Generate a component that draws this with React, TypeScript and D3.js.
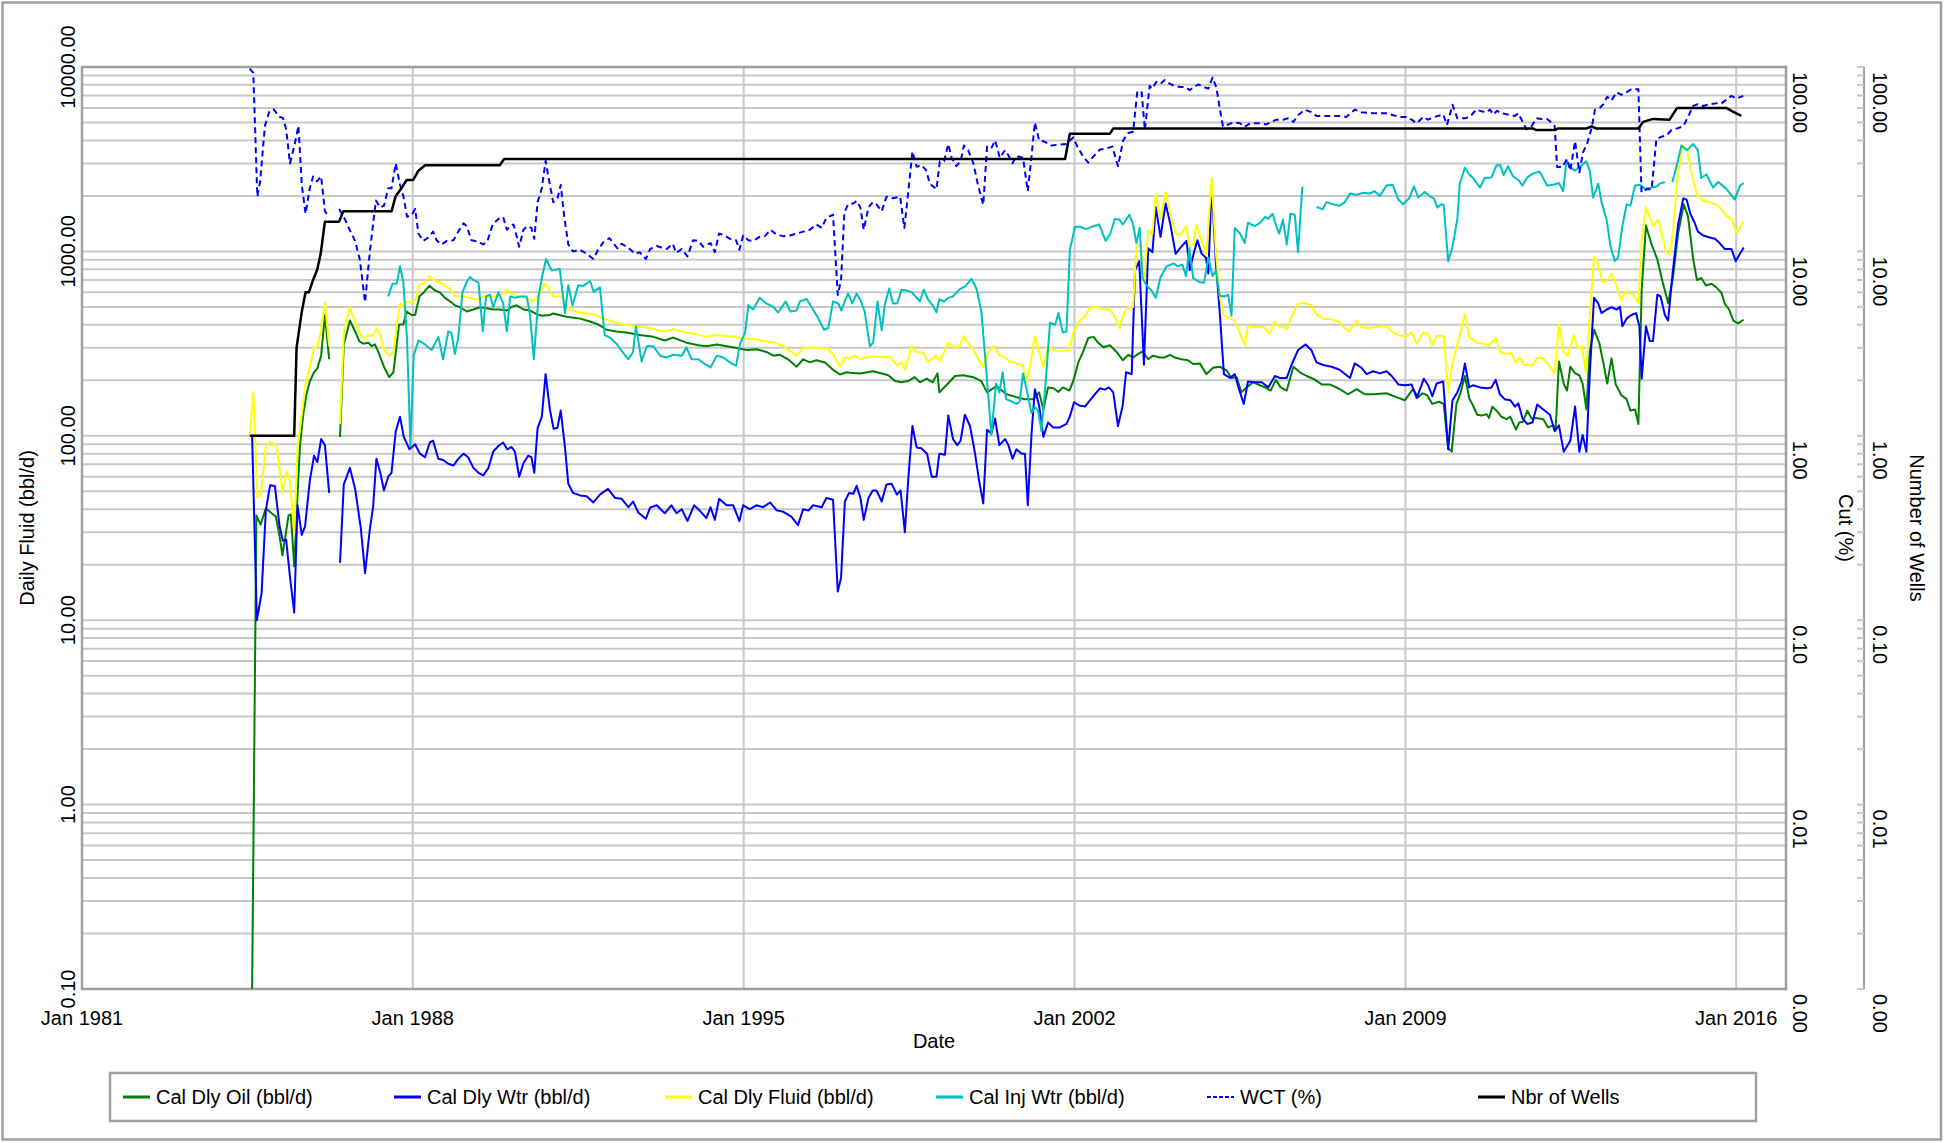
import React from 'react'
import * as d3 from 'd3'

type Pt = [number, number | null]

// decimal year, bbl/d
const oilData: Pt[] = [
  [1984.60, 0.1], [1984.69, 37], [1984.78, 33], [1984.89, 40.5], [1985.01, 38], [1985.10, 36.5], [1985.18, 28.6], [1985.24, 22.5],
  [1985.30, 28], [1985.37, 37], [1985.42, 37.5], [1985.49, 19.6], [1985.56, 47.5], [1985.61, 86.5], [1985.68, 130], [1985.75, 168],
  [1985.82, 197], [1985.91, 221], [1985.98, 232], [1986.06, 272], [1986.14, 452], [1986.23, 260], [1986.35, null],
  [1986.46, 98.6], [1986.54, 313], [1986.67, 422], [1986.78, 368], [1986.87, 325], [1986.95, 316], [1987.06, 320], [1987.13, 306],
  [1987.20, 313], [1987.27, 285], [1987.39, 237], [1987.50, 208], [1987.59, 221], [1987.66, 313], [1987.71, 402], [1987.80, 402],
  [1987.87, 472], [1987.98, 452], [1988.05, 452], [1988.14, 570], [1988.24, 603], [1988.35, 650], [1988.47, 614], [1988.57, 600],
  [1988.68, 560], [1988.79, 535], [1988.89, 510], [1989.00, 498], [1989.14, 472], [1989.28, 484], [1989.42, 498], [1989.56, 492],
  [1989.70, 484], [1989.84, 484], [1989.99, 478], [1990.09, 500], [1990.20, 510], [1990.34, 484], [1990.48, 478], [1990.62, 457],
  [1990.73, 448], [1990.90, 452], [1990.97, 461], [1991.25, 442], [1991.54, 432], [1991.75, 417], [1991.92, 402], [1992.10, 376],
  [1992.31, 368], [1992.52, 363], [1992.80, 352], [1993.09, 344], [1993.33, 329], [1993.51, 341], [1993.79, 320], [1994.04, 310],
  [1994.21, 306], [1994.43, 313], [1994.64, 306], [1994.85, 299], [1995.06, 292], [1995.27, 295], [1995.48, 285], [1995.63, 272],
  [1995.77, 275], [1995.94, 260], [1996.12, 237], [1996.26, 260], [1996.40, 250], [1996.54, 257], [1996.72, 250], [1996.89, 228],
  [1997.04, 215], [1997.18, 221], [1997.25, 220], [1997.46, 218], [1997.74, 224], [1998.06, 213], [1998.20, 198], [1998.34, 195],
  [1998.48, 198], [1998.62, 208], [1998.73, 195], [1998.87, 204], [1999.00, 195], [1999.10, 218], [1999.14, 172], [1999.29, 188],
  [1999.47, 211], [1999.65, 213], [1999.86, 208], [2000.03, 198], [2000.15, 172], [2000.35, 186], [2000.56, 168], [2000.77, 162],
  [2000.95, 158], [2001.13, 158], [2001.25, 172], [2001.34, 139], [2001.44, 183], [2001.55, 181], [2001.66, 173], [2001.75, 183],
  [2001.89, 176], [2001.97, 197], [2002.08, 250], [2002.18, 285], [2002.29, 339], [2002.40, 344], [2002.50, 320], [2002.61, 302],
  [2002.75, 310], [2002.89, 285], [2003.02, 257], [2003.14, 275], [2003.24, 266], [2003.35, 278], [2003.44, 287], [2003.56, 260],
  [2003.66, 272], [2003.81, 266], [2003.91, 266], [2004.02, 275], [2004.12, 266], [2004.26, 260], [2004.40, 257], [2004.51, 245],
  [2004.65, 247], [2004.79, 216], [2004.93, 234], [2005.07, 237], [2005.22, 226], [2005.32, 206], [2005.43, 208], [2005.53, 172],
  [2005.64, 183], [2005.78, 195], [2005.92, 188], [2006.03, 183], [2006.15, 176], [2006.26, 201], [2006.36, 183], [2006.49, 176],
  [2006.63, 237], [2006.77, 221], [2006.91, 211], [2007.05, 204], [2007.23, 190], [2007.40, 190], [2007.58, 181], [2007.79, 168],
  [2007.97, 179], [2008.14, 168], [2008.32, 168], [2008.60, 170], [2008.81, 162], [2008.99, 156], [2009.16, 179], [2009.27, 162],
  [2009.36, 170], [2009.46, 166], [2009.57, 149], [2009.71, 153], [2009.81, 149], [2009.905, 86], [2009.98, 82], [2010.08, 149],
  [2010.17, 172], [2010.26, 211], [2010.35, 160], [2010.43, 146], [2010.52, 130], [2010.61, 129], [2010.72, 131], [2010.77, 125],
  [2010.84, 144], [2010.94, 136], [2011.03, 127], [2011.14, 123], [2011.22, 127], [2011.34, 108], [2011.41, 118], [2011.49, 119],
  [2011.58, 137], [2011.67, 124], [2011.77, 125], [2011.92, 123], [2012.02, 111], [2012.13, 114], [2012.18, 108], [2012.25, 253],
  [2012.35, 192], [2012.42, 176], [2012.49, 237], [2012.59, 218], [2012.68, 213], [2012.75, 192], [2012.83, 139], [2012.90, 285],
  [2012.99, 376], [2013.10, 320], [2013.19, 247], [2013.27, 192], [2013.36, 263], [2013.45, 190], [2013.57, 166], [2013.68, 158],
  [2013.76, 137], [2013.86, 139], [2013.93, 116], [2014.00, 625], [2014.09, 1380], [2014.21, 1090], [2014.33, 906], [2014.44, 686],
  [2014.56, 524], [2014.66, 717], [2014.77, 1250], [2014.89, 1800], [2014.98, 1550], [2015.09, 906], [2015.17, 700], [2015.26, 717],
  [2015.36, 653], [2015.48, 668], [2015.58, 638], [2015.69, 595], [2015.76, 520], [2015.85, 484], [2015.94, 421], [2016.04, 407],
  [2016.16, 426],
]

const wtrData: Pt[] = [
  [1984.60, 100], [1984.70, 10], [1984.80, 14], [1984.89, 39.5], [1984.98, 54], [1985.08, 53.5], [1985.18, 32.3], [1985.25, 27],
  [1985.32, 27.3], [1985.40, 17.2], [1985.49, 11], [1985.56, 42], [1985.65, 29], [1985.72, 32.3], [1985.82, 57], [1985.91, 78],
  [1985.98, 72], [1986.06, 96], [1986.14, 89], [1986.23, 49], [1986.35, null], [1986.46, 20.5], [1986.54, 54.5], [1986.67, 67],
  [1986.78, 51.5], [1986.90, 31.6], [1986.99, 18], [1987.09, 31], [1987.16, 41], [1987.23, 75], [1987.32, 62], [1987.39, 50.5],
  [1987.48, 60], [1987.55, 63], [1987.64, 106], [1987.73, 127], [1987.81, 98.6], [1987.93, 84.5], [1988.05, 90], [1988.15, 80],
  [1988.26, 76.5], [1988.36, 92], [1988.43, 94], [1988.54, 75], [1988.64, 74], [1988.75, 70.5], [1988.86, 69], [1988.96, 75],
  [1989.07, 80], [1989.17, 76.5], [1989.28, 67], [1989.39, 63], [1989.49, 61], [1989.60, 67], [1989.70, 82], [1989.81, 88],
  [1989.91, 92], [1990.00, 84.5], [1990.09, 87], [1990.16, 82], [1990.25, 60], [1990.34, 71], [1990.44, 78], [1990.51, 76.5],
  [1990.57, 63], [1990.64, 110], [1990.73, 127], [1990.81, 216], [1990.90, 139], [1990.98, 109], [1991.06, 110.5], [1991.13, 137],
  [1991.22, 86.5], [1991.29, 55], [1991.39, 49], [1991.54, 47.5], [1991.68, 47], [1991.82, 43.5], [1991.96, 48], [1992.13, 51.5],
  [1992.28, 46], [1992.42, 45.5], [1992.56, 41], [1992.66, 44], [1992.77, 38.4], [1992.93, 35.5], [1993.02, 40.8], [1993.16, 42],
  [1993.33, 38], [1993.47, 42], [1993.58, 38], [1993.69, 40], [1993.81, 34.5], [1993.95, 42], [1994.07, 39.3], [1994.21, 35.8],
  [1994.30, 41], [1994.39, 35], [1994.48, 45.5], [1994.64, 42], [1994.78, 42], [1994.91, 34.5], [1994.99, 42], [1995.13, 40],
  [1995.27, 42], [1995.41, 41], [1995.56, 43.5], [1995.70, 39.4], [1995.84, 38.7], [1996.01, 36.5], [1996.15, 32.8], [1996.26, 40],
  [1996.37, 39.3], [1996.47, 42], [1996.65, 41], [1996.75, 46], [1996.89, 45], [1996.99, 14.3], [1997.06, 17], [1997.14, 44],
  [1997.23, 49], [1997.32, 48.5], [1997.39, 53.5], [1997.47, 46], [1997.54, 35], [1997.64, 46], [1997.73, 50.5], [1997.81, 50.5],
  [1997.92, 44], [1998.02, 54.5], [1998.13, 55], [1998.24, 48], [1998.32, 50.5], [1998.41, 30], [1998.48, 57], [1998.57, 113],
  [1998.66, 86.5], [1998.76, 85.5], [1998.88, 80], [1998.98, 60], [1999.08, 60], [1999.14, 80], [1999.26, 79], [1999.33, 129],
  [1999.43, 96], [1999.52, 89], [1999.59, 94], [1999.68, 130], [1999.79, 113], [1999.89, 82], [1999.98, 57.5], [2000.07, 43],
  [2000.15, 108], [2000.24, 103], [2000.32, 124], [2000.41, 89], [2000.53, 96], [2000.60, 89], [2000.69, 75], [2000.77, 84.5],
  [2000.88, 80], [2000.95, 80], [2001.01, 42], [2001.09, 103], [2001.16, 179], [2001.25, 146], [2001.34, 98.6], [2001.44, 118],
  [2001.55, 111], [2001.69, 111], [2001.83, 116], [2001.90, 127], [2001.99, 152], [2002.10, 146], [2002.22, 144], [2002.33, 156],
  [2002.43, 168], [2002.54, 181], [2002.64, 178], [2002.73, 183], [2002.82, 172], [2002.92, 113], [2003.02, 146], [2003.09, 221],
  [2003.21, 216], [2003.28, 787], [2003.37, 885], [2003.47, 243], [2003.56, 1040], [2003.65, 990], [2003.72, 1740], [2003.82, 1200],
  [2003.93, 1820], [2004.03, 1400], [2004.14, 970], [2004.26, 1062], [2004.37, 1140], [2004.44, 792], [2004.51, 950], [2004.60, 1150],
  [2004.69, 970], [2004.78, 925], [2004.83, 758], [2004.90, 2275], [2004.99, 866], [2005.07, 472], [2005.16, 216], [2005.29, 206],
  [2005.39, 216], [2005.48, 179], [2005.58, 149], [2005.67, 197], [2005.81, 195], [2005.96, 195], [2006.10, 183], [2006.24, 211],
  [2006.34, 206], [2006.49, 206], [2006.59, 242], [2006.73, 292], [2006.89, 313], [2007.01, 292], [2007.12, 250], [2007.26, 242],
  [2007.44, 237], [2007.61, 228], [2007.83, 206], [2007.93, 247], [2008.07, 234], [2008.18, 216], [2008.32, 224], [2008.46, 218],
  [2008.60, 224], [2008.71, 211], [2008.85, 190], [2008.99, 188], [2009.13, 190], [2009.24, 160], [2009.39, 204], [2009.48, 188],
  [2009.57, 164], [2009.66, 192], [2009.80, 197], [2009.905, 84.5], [2009.997, 156], [2010.10, 172], [2010.19, 197], [2010.26, 247],
  [2010.35, 183], [2010.43, 188], [2010.58, 183], [2010.72, 181], [2010.82, 183], [2010.91, 201], [2011.00, 168], [2011.10, 158],
  [2011.22, 156], [2011.32, 144], [2011.39, 150], [2011.48, 124], [2011.58, 116], [2011.69, 118], [2011.79, 148], [2011.92, 139],
  [2012.06, 130], [2012.16, 106], [2012.25, 114], [2012.35, 82], [2012.49, 94], [2012.59, 144], [2012.68, 82], [2012.75, 101],
  [2012.83, 82], [2012.90, 216], [2012.99, 560], [2013.08, 522], [2013.15, 463], [2013.26, 484], [2013.36, 498], [2013.47, 484],
  [2013.54, 500], [2013.59, 393], [2013.68, 432], [2013.78, 452], [2013.88, 463], [2013.95, 393], [2014.00, 204], [2014.09, 393],
  [2014.17, 327], [2014.24, 327], [2014.33, 582], [2014.40, 570], [2014.49, 452], [2014.56, 422], [2014.66, 787], [2014.77, 1400],
  [2014.88, 1940], [2014.95, 1910], [2015.03, 1600], [2015.12, 1430], [2015.19, 1280], [2015.30, 1220], [2015.44, 1190],
  [2015.55, 1170], [2015.65, 1110], [2015.76, 1030], [2015.90, 1030], [2015.99, 885], [2016.08, 970], [2016.16, 1050],
]

const fluidData: Pt[] = [
  [1984.55, 98.6], [1984.625, 172], [1984.71, 46.5], [1984.78, 47.5], [1984.89, 86.5], [1984.96, 92], [1985.05, 91], [1985.12, 86.5],
  [1985.18, 67], [1985.24, 49], [1985.33, 64], [1985.40, 57], [1985.49, 29.6], [1985.56, 86.5], [1985.65, 130], [1985.72, 188],
  [1985.82, 237], [1985.91, 299], [1985.98, 306], [1986.06, 376], [1986.14, 530], [1986.23, 306], [1986.35, null], [1986.46, 116],
  [1986.54, 360], [1986.67, 498], [1986.78, 414], [1986.87, 360], [1986.97, 339], [1987.06, 352], [1987.15, 348], [1987.23, 384],
  [1987.31, 352], [1987.39, 292], [1987.50, 272], [1987.59, 285], [1987.66, 393], [1987.73, 522], [1987.80, 498], [1987.87, 530],
  [1987.98, 530], [1988.05, 542], [1988.14, 656], [1988.24, 668], [1988.35, 735], [1988.47, 690], [1988.57, 683], [1988.68, 650],
  [1988.79, 625], [1988.89, 575], [1989.03, 570], [1989.21, 560], [1989.35, 546], [1989.49, 570], [1989.70, 570], [1989.84, 575],
  [1989.99, 620], [1990.09, 590], [1990.27, 570], [1990.41, 560], [1990.55, 535], [1990.66, 582], [1990.80, 668], [1990.90, 614],
  [1990.97, 570], [1991.15, 570], [1991.32, 484], [1991.54, 463], [1991.82, 457], [1992.03, 432], [1992.24, 417], [1992.45, 402],
  [1992.73, 393], [1993.02, 384], [1993.30, 368], [1993.51, 379], [1993.79, 363], [1994.00, 356], [1994.21, 344], [1994.43, 352],
  [1994.64, 348], [1994.85, 344], [1994.99, 336], [1995.20, 336], [1995.41, 327], [1995.63, 322], [1995.84, 306], [1996.12, 272],
  [1996.26, 299], [1996.44, 302], [1996.61, 299], [1996.75, 299], [1996.89, 278], [1997.04, 236], [1997.14, 266], [1997.25, 262],
  [1997.35, 272], [1997.46, 260], [1997.60, 266], [1997.74, 270], [1997.95, 266], [1998.09, 270], [1998.24, 242], [1998.34, 250],
  [1998.41, 228], [1998.55, 306], [1998.66, 285], [1998.80, 282], [1998.90, 253], [1998.98, 260], [1999.08, 272], [1999.15, 253],
  [1999.33, 320], [1999.43, 302], [1999.56, 306], [1999.66, 348], [1999.75, 320], [1999.86, 292], [1999.96, 263], [2000.07, 235],
  [2000.17, 285], [2000.29, 306], [2000.41, 275], [2000.53, 266], [2000.63, 253], [2000.77, 247], [2000.90, 242], [2000.99, 197],
  [2001.07, 247], [2001.16, 348], [2001.25, 285], [2001.34, 237], [2001.44, 306], [2001.55, 292], [2001.69, 287], [2001.89, 292],
  [2001.97, 360], [2002.11, 422], [2002.24, 452], [2002.34, 498], [2002.47, 500], [2002.61, 484], [2002.75, 484], [2002.85, 442],
  [2002.95, 384], [2003.07, 478], [2003.17, 498], [2003.24, 500], [2003.31, 1062], [2003.40, 1100], [2003.47, 690], [2003.56, 1290],
  [2003.65, 1250], [2003.72, 2060], [2003.82, 1500], [2003.93, 2100], [2004.03, 1580], [2004.14, 1250], [2004.24, 1220],
  [2004.36, 1370], [2004.43, 1062], [2004.51, 1090], [2004.58, 1400], [2004.69, 1140], [2004.79, 970], [2004.90, 2500],
  [2004.99, 990], [2005.07, 582], [2005.15, 452], [2005.29, 432], [2005.39, 422], [2005.50, 360], [2005.60, 310], [2005.67, 393],
  [2005.81, 389], [2005.99, 389], [2006.13, 360], [2006.24, 414], [2006.34, 389], [2006.41, 393], [2006.49, 379], [2006.63, 467],
  [2006.73, 522], [2006.87, 524], [2007.01, 510], [2007.12, 452], [2007.26, 432], [2007.44, 428], [2007.61, 414], [2007.72, 384],
  [2007.81, 368], [2007.97, 422], [2008.07, 389], [2008.21, 384], [2008.39, 389], [2008.60, 393], [2008.74, 363], [2008.88, 348],
  [2009.02, 348], [2009.13, 363], [2009.24, 316], [2009.38, 363], [2009.48, 356], [2009.57, 310], [2009.66, 348], [2009.81, 348],
  [2009.905, 172], [2009.997, 247], [2010.12, 329], [2010.26, 457], [2010.35, 344], [2010.50, 320], [2010.65, 316], [2010.77, 310],
  [2010.91, 339], [2011.01, 285], [2011.14, 278], [2011.24, 282], [2011.34, 250], [2011.42, 266], [2011.51, 242], [2011.62, 242],
  [2011.69, 240], [2011.79, 266], [2011.92, 263], [2012.06, 237], [2012.16, 218], [2012.25, 402], [2012.35, 285], [2012.44, 272],
  [2012.56, 352], [2012.66, 299], [2012.73, 306], [2012.82, 221], [2012.90, 432], [2012.99, 938], [2013.08, 843], [2013.17, 683],
  [2013.27, 690], [2013.36, 758], [2013.45, 668], [2013.57, 542], [2013.64, 596], [2013.82, 590], [2013.93, 524], [2014.00, 1140],
  [2014.09, 1740], [2014.17, 1537], [2014.24, 1370], [2014.35, 1490], [2014.44, 1190], [2014.52, 990], [2014.59, 970],
  [2014.66, 1250], [2014.75, 2380], [2014.86, 3750], [2014.96, 3540], [2015.05, 2680], [2015.16, 2060], [2015.30, 1880],
  [2015.44, 1850], [2015.58, 1800], [2015.69, 1690], [2015.79, 1560], [2015.90, 1500], [2016.01, 1260], [2016.11, 1400],
  [2016.16, 1450],
]

const injData: Pt[] = [
  [1987.48, 570], [1987.57, 668], [1987.66, 668], [1987.73, 830], [1987.80, 683], [1987.88, 329], [1987.95, 88], [1988.02, 272],
  [1988.12, 329], [1988.26, 313], [1988.40, 292], [1988.54, 344], [1988.64, 260], [1988.75, 368], [1988.82, 360], [1988.89, 278],
  [1988.96, 339], [1989.05, 600], [1989.14, 683], [1989.21, 726], [1989.28, 700], [1989.39, 677], [1989.48, 368], [1989.55, 570],
  [1989.63, 582], [1989.70, 500], [1989.81, 600], [1989.91, 522], [1989.99, 368], [1990.06, 570], [1990.16, 560], [1990.27, 570],
  [1990.41, 570], [1990.48, 452], [1990.56, 260], [1990.66, 570], [1990.73, 717], [1990.82, 910], [1990.94, 787], [1991.11, 804],
  [1991.22, 463], [1991.29, 656], [1991.38, 510], [1991.50, 656], [1991.61, 650], [1991.75, 690], [1991.83, 603], [1991.96, 638],
  [1992.06, 352], [1992.17, 341], [1992.31, 316], [1992.45, 282], [1992.56, 260], [1992.66, 285], [1992.72, 393], [1992.84, 253],
  [1992.95, 306], [1993.09, 306], [1993.23, 272], [1993.37, 266], [1993.51, 275], [1993.69, 272], [1993.79, 302], [1993.90, 260],
  [1994.04, 260], [1994.18, 245], [1994.30, 235], [1994.43, 272], [1994.57, 266], [1994.74, 247], [1994.84, 240], [1994.92, 313],
  [1995.03, 363], [1995.10, 510], [1995.20, 484], [1995.34, 560], [1995.48, 522], [1995.63, 500], [1995.73, 466], [1995.89, 535],
  [1995.99, 472], [1996.12, 478], [1996.19, 535], [1996.33, 553], [1996.44, 498], [1996.58, 432], [1996.70, 376], [1996.79, 384],
  [1996.89, 535], [1997.00, 522], [1997.07, 478], [1997.12, 522], [1997.21, 590], [1997.30, 522], [1997.39, 590], [1997.47, 546],
  [1997.56, 472], [1997.67, 306], [1997.74, 320], [1997.83, 535], [1997.92, 373], [1997.99, 522], [1998.08, 630], [1998.16, 522],
  [1998.25, 524], [1998.34, 620], [1998.45, 614], [1998.55, 603], [1998.73, 535], [1998.81, 620], [1998.90, 550], [1999.00, 510],
  [1999.08, 467], [1999.14, 550], [1999.24, 535], [1999.33, 560], [1999.43, 570], [1999.56, 620], [1999.70, 650], [1999.82, 710],
  [1999.93, 625], [2000.03, 472], [2000.14, 216], [2000.24, 101], [2000.34, 192], [2000.41, 172], [2000.48, 221], [2000.55, 158],
  [2000.63, 155], [2000.77, 149], [2000.84, 153], [2000.91, 218], [2000.99, 176], [2001.09, 133], [2001.16, 143], [2001.23, 137],
  [2001.30, 106], [2001.39, 197], [2001.48, 410], [2001.59, 400], [2001.66, 463], [2001.75, 363], [2001.83, 368], [2001.90, 1014],
  [2002.01, 1360], [2002.11, 1360], [2002.24, 1320], [2002.40, 1370], [2002.52, 1400], [2002.66, 1140], [2002.76, 1250],
  [2002.85, 1500], [2002.95, 1490], [2003.02, 1400], [2003.16, 1580], [2003.24, 1400], [2003.31, 1110], [2003.38, 1340],
  [2003.44, 717], [2003.52, 656], [2003.63, 614], [2003.72, 560], [2003.82, 725], [2003.95, 830], [2004.09, 860], [2004.19, 830],
  [2004.28, 850], [2004.36, 735], [2004.43, 1040], [2004.51, 717], [2004.64, 683], [2004.74, 677], [2004.83, 925], [2004.92, 735],
  [2004.99, 787], [2005.07, 575], [2005.18, 570], [2005.25, 582], [2005.32, 448], [2005.39, 1340], [2005.50, 1250], [2005.60, 1110],
  [2005.67, 1430], [2005.81, 1370], [2005.93, 1430], [2006.03, 1537], [2006.10, 1500], [2006.19, 1600], [2006.27, 1370],
  [2006.33, 1250], [2006.41, 1490], [2006.49, 1090], [2006.57, 1600], [2006.66, 1580], [2006.73, 990], [2006.82, 2250],
  [2006.95, null], [2007.12, 1740], [2007.25, 1690], [2007.33, 1850], [2007.47, 1800], [2007.61, 1770], [2007.72, 1850],
  [2007.83, 2060], [2007.97, 2030], [2008.11, 2080], [2008.25, 2060], [2008.35, 2120], [2008.46, 2000], [2008.60, 2275],
  [2008.73, 2300], [2008.85, 1910], [2008.95, 1800], [2009.08, 1940], [2009.18, 2250], [2009.27, 1960], [2009.41, 2100],
  [2009.52, 1990], [2009.60, 1940], [2009.68, 1730], [2009.76, 1800], [2009.81, 1790], [2009.905, 885], [2009.997, 1062],
  [2010.10, 1500], [2010.15, 2330], [2010.26, 2840], [2010.35, 2620], [2010.43, 2500], [2010.58, 2220], [2010.68, 2500],
  [2010.82, 2520], [2010.93, 2934], [2011.01, 2934], [2011.08, 2590], [2011.17, 2900], [2011.28, 2550], [2011.39, 2440],
  [2011.48, 2275], [2011.58, 2520], [2011.70, 2640], [2011.84, 2710], [2012.00, 2275], [2012.13, 2300], [2012.25, 2350],
  [2012.34, 2120], [2012.41, 3120], [2012.49, 2870], [2012.59, 2740], [2012.69, 2870], [2012.83, 3080], [2012.90, 2740],
  [2012.97, 1960], [2013.08, 2330], [2013.15, 1850], [2013.26, 1470], [2013.34, 1062], [2013.43, 885], [2013.50, 925],
  [2013.59, 1370], [2013.68, 1800], [2013.76, 1770], [2013.86, 2275], [2013.96, 2300], [2014.07, 2190], [2014.21, 2220],
  [2014.31, 2250], [2014.38, 2330], [2014.49, 2380], [2014.57, null], [2014.65, 2380], [2014.75, 2990], [2014.84, 3750],
  [2014.96, 3540], [2015.09, 3820], [2015.19, 3540], [2015.26, 2500], [2015.37, 2620], [2015.51, 2220], [2015.62, 2380],
  [2015.79, 2190], [2015.97, 1910], [2016.08, 2275], [2016.16, 2350],
]

// percent
const wctData: Pt[] = [
  [1984.55, 98], [1984.625, 93], [1984.71, 19.8], [1984.77, 24], [1984.87, 48], [1984.96, 57], [1985.05, 59], [1985.10, 57],
  [1985.15, 54], [1985.25, 53], [1985.32, 46], [1985.40, 30], [1985.49, 37], [1985.58, 48], [1985.65, 23], [1985.73, 16],
  [1985.82, 22], [1985.89, 25.5], [1985.97, 24], [1986.06, 25.5], [1986.14, 16.5], [1986.21, 15.6], [1986.35, null], [1986.44, 17],
  [1986.56, 15], [1986.67, 13], [1986.78, 11.4], [1986.88, 9], [1986.99, 5.3], [1987.09, 9.9], [1987.22, 18.9], [1987.31, 17.3],
  [1987.39, 17.7], [1987.48, 22], [1987.55, 22], [1987.64, 30], [1987.73, 23], [1987.80, 20], [1987.88, 15.4], [1987.98, 15.8],
  [1988.05, 17], [1988.12, 12.5], [1988.22, 11.4], [1988.33, 11.9], [1988.43, 12.8], [1988.50, 11.5], [1988.61, 10.9],
  [1988.72, 11.4], [1988.86, 11.5], [1988.96, 12.8], [1989.07, 14.2], [1989.14, 13.7], [1989.24, 11.5], [1989.39, 11.3],
  [1989.49, 10.9], [1989.58, 11.4], [1989.69, 14], [1989.81, 15], [1989.91, 15.4], [1989.99, 13.1], [1990.06, 13.7], [1990.13, 14],
  [1990.18, 12.6], [1990.25, 10.6], [1990.34, 13.1], [1990.42, 13.7], [1990.51, 13.4], [1990.57, 11.7], [1990.64, 18.5],
  [1990.73, 22], [1990.81, 31], [1990.88, 24.5], [1990.97, 18.5], [1991.06, 19.3], [1991.13, 22.9], [1991.20, 15.8], [1991.29, 10.9],
  [1991.39, 10.0], [1991.54, 10.2], [1991.68, 9.7], [1991.82, 9.1], [1991.92, 10.2], [1992.03, 11.2], [1992.16, 11.8],
  [1992.24, 11.1], [1992.33, 10.4], [1992.42, 11.0], [1992.52, 10.6], [1992.61, 10.2], [1992.70, 9.7], [1992.80, 9.9],
  [1992.93, 9.1], [1993.02, 10.3], [1993.16, 10.7], [1993.26, 10.5], [1993.37, 10.3], [1993.50, 11.0], [1993.57, 9.8],
  [1993.69, 10.3], [1993.81, 9.4], [1993.93, 11.5], [1994.04, 11.4], [1994.14, 10.6], [1994.30, 11.1], [1994.39, 9.9],
  [1994.48, 12.5], [1994.60, 12.2], [1994.71, 11.7], [1994.84, 11.5], [1994.91, 10.2], [1994.99, 12.2], [1995.10, 11.5],
  [1995.20, 11.4], [1995.34, 12.0], [1995.45, 12.1], [1995.57, 13.1], [1995.70, 12.3], [1995.84, 12.1], [1995.98, 12.2],
  [1996.12, 12.5], [1996.26, 12.8], [1996.40, 13.1], [1996.54, 14.0], [1996.65, 13.4], [1996.75, 15.2], [1996.89, 15.8],
  [1996.99, 5.8], [1997.06, 7], [1997.13, 16.3], [1997.21, 18], [1997.32, 18.2], [1997.39, 18.8], [1997.47, 17.3], [1997.54, 13.1],
  [1997.64, 17.3], [1997.73, 18.5], [1997.81, 18], [1997.92, 16.5], [1998.02, 19.8], [1998.16, 19.4], [1998.31, 19.8],
  [1998.40, 13.4], [1998.48, 20.7], [1998.57, 34.8], [1998.66, 28.8], [1998.76, 29.4], [1998.86, 27.6], [1998.94, 23.3],
  [1999.08, 21.7], [1999.15, 30.8], [1999.24, 30.8], [1999.33, 38.2], [1999.40, 32.2], [1999.50, 29], [1999.59, 30.8],
  [1999.66, 37.5], [1999.75, 35.4], [1999.86, 30.1], [1999.96, 22.8], [2000.07, 17.9], [2000.15, 37], [2000.24, 36.2],
  [2000.32, 40], [2000.42, 32.2], [2000.53, 35.4], [2000.60, 33.2], [2000.69, 30.1], [2000.77, 32.9], [2000.91, 32.2],
  [2001.01, 21.2], [2001.09, 32.9], [2001.16, 50], [2001.25, 40], [2001.37, 39.3], [2001.51, 37.5], [2001.65, 37.9],
  [2001.83, 38.2], [2001.97, 41.5], [2002.06, 37], [2002.18, 32.7], [2002.29, 30.3], [2002.40, 32.7], [2002.54, 35.7],
  [2002.68, 36.2], [2002.80, 37], [2002.92, 29], [2003.03, 40], [2003.14, 43.9], [2003.24, 44.5], [2003.33, 74], [2003.42, 73],
  [2003.49, 45.5], [2003.59, 79], [2003.65, 76.4], [2003.73, 83], [2003.82, 81], [2003.91, 85], [2004.02, 81], [2004.12, 79],
  [2004.23, 78], [2004.33, 78], [2004.44, 75], [2004.51, 77.5], [2004.62, 80.4], [2004.72, 78], [2004.83, 76.4], [2004.92, 87.7],
  [2005.00, 77.5], [2005.07, 60], [2005.14, 47.7], [2005.25, 48.8], [2005.36, 50], [2005.50, 49.5], [2005.60, 47.3],
  [2005.71, 49.5], [2005.92, 49.5], [2006.06, 48.8], [2006.17, 50.4], [2006.27, 51.8], [2006.41, 51.8], [2006.52, 52.7],
  [2006.63, 50.4], [2006.73, 54.8], [2006.87, 58.7], [2007.01, 56.9], [2007.12, 54.3], [2007.33, 54.3], [2007.61, 54.3],
  [2007.75, 53.6], [2007.93, 58.7], [2008.07, 56.9], [2008.32, 56.1], [2008.60, 56.1], [2008.74, 54.8], [2008.88, 53.6],
  [2009.02, 53.6], [2009.13, 51.8], [2009.24, 49.5], [2009.38, 53.6], [2009.48, 51.8], [2009.62, 53.6], [2009.80, 55.3],
  [2009.88, 48.5], [2009.997, 62.4], [2010.10, 52.7], [2010.26, 52.7], [2010.36, 53.6], [2010.50, 58.7], [2010.63, 57.3],
  [2010.72, 56.9], [2010.79, 58.7], [2010.86, 55.3], [2010.94, 57.9], [2011.03, 56.1], [2011.17, 55.3], [2011.32, 54.3],
  [2011.39, 56.1], [2011.49, 50], [2011.56, 45.9], [2011.67, 47.7], [2011.77, 52.7], [2011.88, 52.3], [2012.00, 52.3],
  [2012.09, 50], [2012.16, 47.7], [2012.21, 28.7], [2012.32, 28.7], [2012.42, 31.7], [2012.49, 27.4], [2012.59, 39.6],
  [2012.68, 26.8], [2012.76, 34.5], [2012.85, 38.8], [2012.94, 46.6], [2013.01, 58.7], [2013.11, 60], [2013.18, 62.4],
  [2013.27, 69], [2013.36, 65.9], [2013.47, 73], [2013.57, 70.6], [2013.68, 73], [2013.78, 75.7], [2013.93, 75.7],
  [2013.996, 20.9], [2014.10, 21.7], [2014.21, 21.7], [2014.31, 40.6], [2014.42, 41.9], [2014.52, 42.5], [2014.63, 45.5],
  [2014.77, 46.6], [2014.88, 47.7], [2014.98, 53.6], [2015.09, 61.5], [2015.19, 62.9], [2015.30, 61.5], [2015.44, 62.9],
  [2015.58, 63.5], [2015.69, 63.5], [2015.79, 66.5], [2015.90, 69.7], [2016.01, 67.4], [2016.15, 69.7],
]

const wellsData: Pt[] = [
  [1984.55, 1], [1985.49, 1], [1985.54, 3], [1985.65, 4.7], [1985.73, 6], [1985.80, 6], [1985.89, 7], [1985.98, 8], [1986.05, 9.7],
  [1986.14, 14.5], [1986.44, 14.5], [1986.53, 16.5], [1987.55, 16.5], [1987.64, 20], [1987.76, 22], [1987.87, 24.4],
  [1988.01, 24.4], [1988.12, 27.4], [1988.26, 29.3], [1989.84, 29.3], [1989.93, 31.7], [2001.80, 31.7], [2001.90, 43.5],
  [2002.75, 43.5], [2002.82, 46.4], [2011.70, 46.4], [2011.77, 45.5], [2012.16, 45.5], [2012.23, 46.4], [2012.83, 46.4],
  [2012.94, 47.7], [2013.04, 46.4], [2013.93, 46.4], [2014.03, 50.4], [2014.24, 52.3], [2014.59, 51.8], [2014.75, 60],
  [2015.79, 60], [2015.93, 57.3], [2016.11, 54.3],
]

const xTickYears = [1981, 1988, 1995, 2002, 2009, 2016]
const leftTicks = [0.1, 1, 10, 100, 1000, 10000]
const rightTicks = [0.001, 0.01, 0.1, 1, 10, 100]

const series = [
  { name: 'Cal Dly Oil (bbl/d)', data: oilData, color: '#008000', axis: 'L', dash: null, width: 2 },
  { name: 'Cal Dly Wtr (bbl/d)', data: wtrData, color: '#0000ff', axis: 'L', dash: null, width: 2 },
  { name: 'Cal Dly Fluid (bbl/d)', data: fluidData, color: '#ffff00', axis: 'L', dash: null, width: 2 },
  { name: 'Cal Inj Wtr (bbl/d)', data: injData, color: '#00c0c0', axis: 'L', dash: null, width: 2 },
  { name: 'WCT (%)', data: wctData, color: '#0000ff', axis: 'R', dash: '6,4', width: 2 },
  { name: 'Nbr of Wells', data: wellsData, color: '#000000', axis: 'R', dash: null, width: 2.5 },
]

const W = 1944
const H = 1143
const PL = 82, PR = 1786, PT = 67, PB = 989
const FONT = '"Liberation Sans", Arial, sans-serif'
const GRID = '#c8c8c8'
const FRAME = '#a0a0a0'

function toDate(y: number) {
  const yr = Math.floor(y)
  const a = new Date(yr, 0, 1).getTime()
  const b = new Date(yr + 1, 0, 1).getTime()
  return new Date(a + (y - yr) * (b - a))
}

export default function App() {
  const x = d3.scaleTime().domain([new Date(1981, 0, 1), new Date(2017, 0, 20)]).range([PL, PR])
  const yL = d3.scaleLog().domain([0.1, 10000]).range([PB, PT])
  const yR = d3.scaleLog().domain([0.001, 100]).range([PB, PT])
  const fmt = d3.format('.2f')

  const minorL: number[] = []
  for (let e = -1; e <= 3; e++) for (let k = 1; k <= 9; k++) minorL.push(k * Math.pow(10, e))
  minorL.push(10000)

  const mkLine = (axis: string) =>
    d3.line<Pt>()
      .defined(d => d[1] != null)
      .x(d => x(toDate(d[0])))
      .y(d => (axis === 'L' ? yL(d[1] as number) : yR(d[1] as number)))

  const midY = (PT + PB) / 2

  return (
    <div style={{ position: 'absolute', left: 0, top: 0 }}>
      <svg width={W} height={H} style={{ display: 'block', background: '#fff' }} fontFamily={FONT}>
        <rect x={2.5} y={2.5} width={1938.5} height={1137} fill="#fff" stroke={FRAME} strokeWidth={2.5} />

        {/* grid */}
        {minorL.map((v, i) => (
          <line key={'h' + i} x1={PL} x2={PR} y1={yL(v)} y2={yL(v)} stroke={GRID} strokeWidth={2} />
        ))}
        {xTickYears.slice(1).map(yr => (
          <line key={'v' + yr} x1={x(new Date(yr, 0, 1))} x2={x(new Date(yr, 0, 1))} y1={PT} y2={PB} stroke={GRID} strokeWidth={2} />
        ))}

        {/* frame */}
        <rect x={PL} y={PT} width={PR - PL} height={PB - PT} fill="none" stroke={FRAME} strokeWidth={2.5} />

        {/* second right axis */}
        <line x1={1864} x2={1864} y1={PT} y2={PB} stroke={FRAME} strokeWidth={2} />
        {minorL.map((v, i) => (
          <line key={'t' + i} x1={1857} x2={1864} y1={yL(v)} y2={yL(v)} stroke={GRID} strokeWidth={2} />
        ))}

        {/* series */}
        {series.map(s => (
          <path
            key={s.name}
            d={mkLine(s.axis)(s.data) || ''}
            fill="none"
            stroke={s.color}
            strokeWidth={s.width}
            strokeDasharray={s.dash || undefined}
            strokeLinejoin="round"
          />
        ))}

        {/* x ticks */}
        {xTickYears.map(yr => (
          <text key={'xt' + yr} x={x(new Date(yr, 0, 1))} y={1025} fontSize={20} textAnchor="middle" fill="#000">
            {'Jan ' + yr}
          </text>
        ))}
        <text x={(PL + PR) / 2} y={1048} fontSize={20} textAnchor="middle" fill="#000">Date</text>

        {/* left ticks */}
        {leftTicks.map(v => (
          <text key={'lt' + v} transform={`translate(68,${yL(v)}) rotate(-90)`} dy="0.35em" fontSize={20} textAnchor="middle" fill="#000">
            {fmt(v)}
          </text>
        ))}
        <text transform={`translate(27,${midY}) rotate(-90)`} dy="0.35em" fontSize={20} textAnchor="middle" fill="#000">
          Daily Fluid (bbl/d)
        </text>

        {/* right ticks */}
        {rightTicks.map(v => (
          <text key={'r1' + v} transform={`translate(1800,${yR(v) + 5}) rotate(90)`} dy="0.35em" fontSize={20} textAnchor="start" fill="#000">
            {fmt(v)}
          </text>
        ))}
        {rightTicks.map(v => (
          <text key={'r2' + v} transform={`translate(1880,${yR(v) + 5}) rotate(90)`} dy="0.35em" fontSize={20} textAnchor="start" fill="#000">
            {fmt(v)}
          </text>
        ))}
        <text transform={`translate(1846,${midY}) rotate(90)`} dy="0.35em" fontSize={20} textAnchor="middle" fill="#000">Cut (%)</text>
        <text transform={`translate(1917,${midY}) rotate(90)`} dy="0.35em" fontSize={20} textAnchor="middle" fill="#000">Number of Wells</text>

        {/* legend */}
        <rect x={110} y={1073} width={1646} height={48} fill="#fff" stroke={FRAME} strokeWidth={2.5} />
        {series.map((s, i) => {
          const lx = 123 + i * 271
          return (
            <g key={'lg' + i}>
              <line x1={lx} x2={lx + 27} y1={1097} y2={1097} stroke={s.color} strokeWidth={s.dash ? 2 : 3}
                strokeDasharray={s.dash ? '4,2' : undefined} />
              <text x={lx + 33} y={1097} dy="0.35em" fontSize={20} fill="#000">{s.name}</text>
            </g>
          )
        })}
      </svg>
    </div>
  )
}
